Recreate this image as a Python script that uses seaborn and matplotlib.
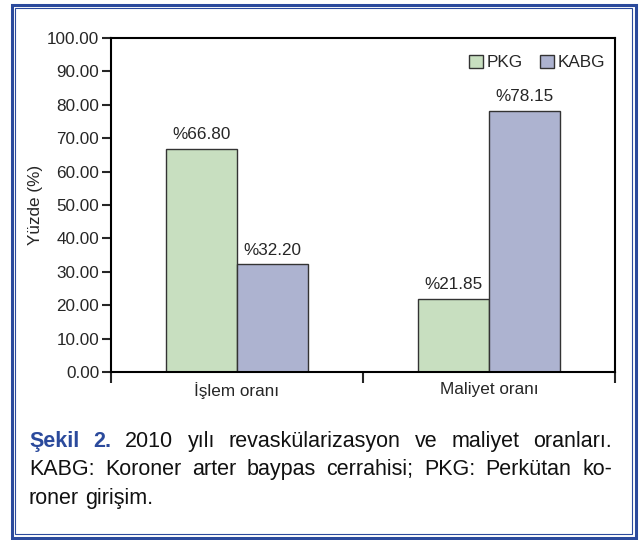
import pandas as pd
import numpy as np
import matplotlib
matplotlib.use("Agg")
import matplotlib.pyplot as plt
import seaborn as sns
from matplotlib.patches import Rectangle
from matplotlib.ticker import FixedLocator, FormatStrFormatter

# ── Data ───────────────────────────────────────────────────
categories = ["İşlem oranı", "Maliyet oranı"]
groups = ["PKG", "KABG"]
pkg_values = [66.80, 21.85]
kabg_values = [32.20, 78.15]
yticks = [0, 10, 20, 30, 40, 50, 60, 70, 80, 90, 100]

caption_lines = [
    [("Şekil", True), ("2.", True), ("2010", False), ("yılı", False),
     ("revaskülarizasyon", False), ("ve", False), ("maliyet", False), ("oranları.", False)],
    [("KABG:", False), ("Koroner", False), ("arter", False), ("baypas", False),
     ("cerrahisi;", False), ("PKG:", False), ("Perkütan", False), ("ko-", False)],
    [("roner", False), ("girişim.", False)],
]

df = pd.DataFrame({
    "oran": categories * 2,
    "grup": [groups[0]] * 2 + [groups[1]] * 2,
    "yuzde": pkg_values + kabg_values,
})

# ── Style ──────────────────────────────────────────────────
sns.set_style("white")
plt.rcParams["font.family"] = ["Liberation Sans", "DejaVu Sans"]

GREEN = "#c8dfc0"
BLUE = "#adb3d0"
BORDER = "#2b4a9c"
W, H = 639, 540
FS = 12.3

fig = plt.figure(figsize=(W / 100, H / 100), dpi=100)
ax = fig.add_axes([111 / W, 1 - 372 / H, (615 - 111) / W, (372 - 38) / H])

sns.barplot(data=df, x="oran", y="yuzde", hue="grup", palette=[GREEN, BLUE],
            width=0.565, edgecolor="#333333", linewidth=1.0, saturation=1,
            ax=ax)

for cont, vals in zip(ax.containers, [pkg_values, kabg_values]):
    ax.bar_label(cont, labels=[f"%{v:.2f}" for v in vals], padding=5, fontsize=FS)

ax.set_xlim(-0.5, 1.5)
ax.set_ylim(0, 100)
ax.yaxis.set_major_locator(FixedLocator(yticks))
ax.yaxis.set_major_formatter(FormatStrFormatter("%.2f"))
ax.xaxis.set_minor_locator(FixedLocator([-0.5, 0.5, 1.5]))
ax.tick_params(axis="y", which="major", direction="out", length=6.5, width=1.5,
               labelsize=FS, pad=2, left=True)
ax.tick_params(axis="x", which="major", length=0, labelsize=FS, pad=7)
ax.tick_params(axis="x", which="minor", direction="out", length=8, width=1.5,
               bottom=True)
ax.set_xlabel("")
ax.set_ylabel("Yüzde (%)", fontsize=FS, labelpad=3)
for sp in ax.spines.values():
    sp.set_visible(True)
    sp.set_linewidth(1.5)
    sp.set_color("black")

leg = ax.legend(ncol=2, frameon=False, loc="upper right", fontsize=FS,
                handlelength=0.8, handleheight=0.8, handletextpad=0.25,
                columnspacing=1.0, bbox_to_anchor=(1.005, 0.985), borderaxespad=0.3)
for p in leg.get_patches():
    p.set_edgecolor("#333333")
    p.set_linewidth(1.0)

# ── Border frame ───────────────────────────────────────────
fig.patches.append(Rectangle((11.5 / W, 1 - 537.5 / H), (635.5 - 11.5) / W, (537.5 - 4.5) / H,
                             transform=fig.transFigure, fill=False, edgecolor=BORDER, lw=2.2))
fig.patches.append(Rectangle((14.5 / W, 1 - 533.5 / H), (632 - 14.5) / W, (533.5 - 8) / H,
                             transform=fig.transFigure, fill=False, edgecolor=BORDER, lw=0.8))

# ── Caption (justified) ────────────────────────────────────
fig.canvas.draw()
renderer = fig.canvas.get_renderer()
x_left, x_right = 29, 612
baselines = [447, 475, 504]
fsize = 15.5
for li, (words, yb) in enumerate(zip(caption_lines, baselines)):
    texts = []
    for w, bold in words:
        t = fig.text(0, 1 - yb / H, w, fontsize=fsize, va="baseline", ha="left",
                     fontweight="bold" if bold else "normal",
                     color=BORDER if bold else "#111111")
        texts.append(t)
    widths = [t.get_window_extent(renderer).width for t in texts]
    if li < len(caption_lines) - 1:
        gap = (x_right - x_left - sum(widths)) / (len(texts) - 1)
    else:
        gap = renderer.points_to_pixels(fsize) * 0.278
    x = x_left
    for t, wd in zip(texts, widths):
        t.set_x(x / W)
        x += wd + gap

fig.savefig("out.png", dpi=100)
